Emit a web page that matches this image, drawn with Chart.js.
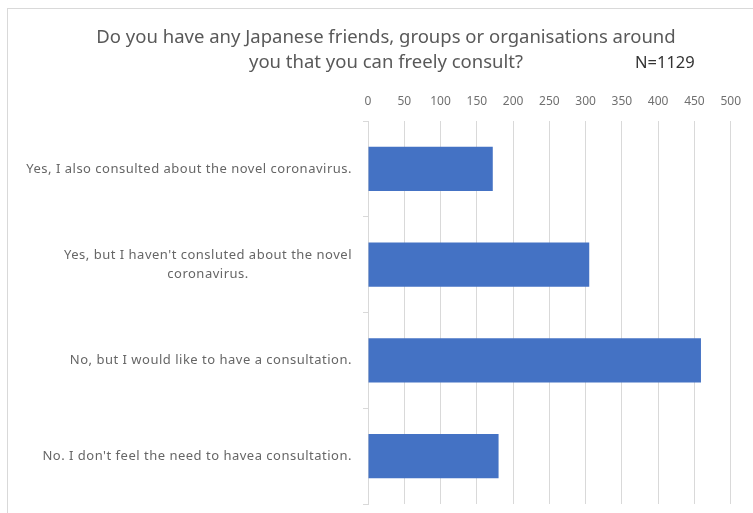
<!DOCTYPE html>
<html>
<head>
<meta charset="utf-8">
<script src="https://cdn.jsdelivr.net/npm/chart.js@4"></script>
<style>
  html, body { margin: 0; padding: 0; background: #fff; }
  #wrap { position: relative; width: 753px; height: 513px; overflow: hidden; }
  #frame { position: absolute; left: 7px; top: 8px; width: 800px; height: 600px; border: 1px solid #d9d9d9; }
  canvas { position: absolute; left: 0; top: 0; }
</style>
</head>
<body>
<div id="wrap">
  <div id="frame"></div>
  <canvas id="chart" width="753" height="513"></canvas>
</div>
<script>
const categories = [
  ["Yes, I also consulted about the novel coronavirus."],
  ["Yes, but I haven't consluted about the novel", "coronavirus."],
  ["No, but I would like to have a consultation."],
  ["No. I don't feel the need to havea consultation."]
];
const counts = [172, 305, 459, 180];
const titleLines = [
  "Do you have any Japanese friends, groups or organisations around",
  "you that you can freely consult?"
];
const sampleNote = "N=1129";

const fontFamily = "'Noto Sans', 'Open Sans', sans-serif";
const grey = "#595959";

// title, sample size and the centred multi-line category labels
const decorations = {
  id: "decorations",
  afterDraw(chart) {
    const { ctx, chartArea } = chart;
    const yScale = chart.scales.y;
    ctx.save();
    ctx.fillStyle = grey;
    ctx.textBaseline = "middle";
    ctx.textAlign = "center";
    ctx.font = `18.5px ${fontFamily}`;
    ctx.fillText(titleLines[0], 386, 38);
    ctx.fillText(titleLines[1], 386, 63);

    ctx.fillStyle = "#333";
    ctx.font = `16.5px ${fontFamily}`;
    ctx.textAlign = "left";
    ctx.fillText(sampleNote, 635, 63);

    ctx.fillStyle = "#666";
    ctx.font = `13px ${fontFamily}`;
    ctx.letterSpacing = "0.5px";
    ctx.textAlign = "center";
    const right = chartArea.left - 16;
    const lineH = 19.5;
    categories.forEach((lines, i) => {
      const y = yScale.getPixelForTick(i);
      const w = Math.max(...lines.map(l => ctx.measureText(l).width));
      const cx = right - w / 2;
      const y0 = y - (lines.length - 1) * lineH / 2;
      lines.forEach((l, j) => ctx.fillText(l, cx, y0 + j * lineH));
    });
    ctx.restore();
  }
};

new Chart(document.getElementById("chart"), {
  type: "bar",
  data: {
    labels: categories,
    datasets: [{
      data: counts,
      backgroundColor: "#4472C4",
      borderWidth: 0,
      categoryPercentage: 1,
      barPercentage: 0.46
    }]
  },
  options: {
    indexAxis: "y",
    responsive: false,
    animation: false,
    layout: { padding: { left: 8, right: 20, top: 0, bottom: 9 } },
    plugins: {
      legend: { display: false },
      tooltip: { enabled: false }
    },
    scales: {
      x: {
        position: "top",
        min: 0,
        max: 500,
        afterFit: s => { s.height = 121; },
        ticks: {
          stepSize: 50,
          color: "#707070",
          padding: 12,
          font: { family: fontFamily, size: 12 }
        },
        grid: { color: "#d9d9d9", drawTicks: false },
        border: { display: false }
      },
      y: {
        afterFit: s => { s.width = 360; },
        ticks: { display: false },
        grid: { color: "#d9d9d9", drawOnChartArea: false, tickLength: 5 },
        border: { color: "#d9d9d9" }
      }
    }
  },
  plugins: [decorations]
});
</script>
</body>
</html>
